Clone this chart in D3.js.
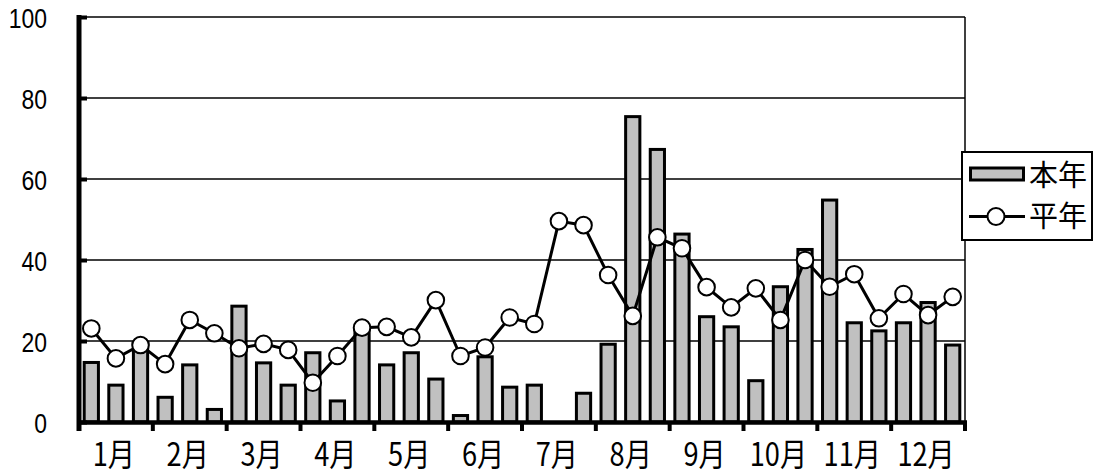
<!DOCTYPE html>
<html><head><meta charset="utf-8">
<script src="https://cdn.jsdelivr.net/npm/d3@7"></script>
<style>html,body{margin:0;padding:0;background:#fff;}svg{display:block;}</style>
</head><body>
<svg id="chart" width="1097" height="475"></svg>
<script>
const months = ["1月","2月","3月","4月","5月","6月","7月","8月","9月","10月","11月","12月"];
const periods = ["上旬","中旬","下旬"];
const categories = months.flatMap(m => periods.map(p => m + p));
const yTicks = [0, 20, 40, 60, 80, 100];
const seriesNames = ["本年", "平年"];
const thisYear = [14.7, 9.1, 19.6, 6.1, 14.1, 3.1, 28.6, 14.6, 9.1, 17.1, 5.2, 22.8,
                  14.1, 17.1, 10.6, 1.6, 16.1, 8.6, 9.1, 0, 7.1, 19.2, 75.4, 67.3,
                  46.4, 26.0, 23.5, 10.2, 33.4, 42.6, 54.8, 24.5, 22.5, 24.5, 29.5, 19.0];
const normal = [23.1, 15.7, 19.0, 14.3, 25.2, 21.9, 18.2, 19.3, 17.8, 9.7, 16.3, 23.3,
                23.5, 20.9, 30.1, 16.3, 18.4, 25.8, 24.2, 49.6, 48.6, 36.3, 26.2, 45.6,
                42.9, 33.3, 28.3, 33.0, 25.2, 40.0, 33.4, 36.5, 25.6, 31.6, 26.4, 30.9];

const L = 79, R = 965, T = 17, B = 422;
const svg = d3.select("#chart");
const y = d3.scaleLinear().domain([0, 100]).range([B, T]);
const x = d3.scaleBand().domain(categories).range([L, R]).paddingInner(0.3).paddingOuter(0.15);
const xm = d3.scaleBand().domain(months).range([L, R]);
const font = "'Noto Sans CJK JP','Liberation Sans',sans-serif";

// gridlines
svg.append("g").selectAll("line").data(yTicks.filter(v => v > 0)).join("line")
  .attr("x1", L).attr("x2", R).attr("y1", d => y(d)).attr("y2", d => y(d))
  .attr("stroke", "#000").attr("stroke-width", 1.5);
// right border
svg.append("line").attr("x1", R).attr("x2", R).attr("y1", y(100)).attr("y2", y(0))
  .attr("stroke", "#000").attr("stroke-width", 1.5);

// bars
svg.append("g").selectAll("rect").data(thisYear).join("rect")
  .attr("x", (d, i) => x(categories[i]) + 1.5)
  .attr("width", x.bandwidth() - 3)
  .attr("y", d => y(d))
  .attr("height", d => y(0) - y(d))
  .attr("fill", d => d > 0 ? "#c0c0c0" : "none")
  .attr("stroke", d => d > 0 ? "#000" : "none")
  .attr("stroke-width", 3);

// line
const cx = i => x(categories[i]) + x.bandwidth() / 2;
svg.append("path").datum(normal)
  .attr("d", d3.line().x((d, i) => cx(i)).y(d => y(d)))
  .attr("fill", "none").attr("stroke", "#000").attr("stroke-width", 3);
svg.append("g").selectAll("circle").data(normal).join("circle")
  .attr("cx", (d, i) => cx(i)).attr("cy", d => y(d)).attr("r", 8.3)
  .attr("fill", "#fff").attr("stroke", "#000").attr("stroke-width", 2);

// y axis
const yAxis = svg.append("g").attr("transform", `translate(${L},0)`)
  .call(d3.axisRight(y).tickValues(yTicks).tickSize(8).tickFormat(""));
yAxis.select(".domain").remove();
yAxis.selectAll(".tick line").attr("stroke", "#000").attr("stroke-width", 4);
svg.append("line").attr("x1", L).attr("x2", L).attr("y1", y(100) - 2).attr("y2", 431)
  .attr("stroke", "#000").attr("stroke-width", 5);
svg.append("g").selectAll("text").data(yTicks).join("text")
  .attr("transform", d => `translate(47,${y(d) + 10.5}) scale(0.85,1)`)
  .attr("text-anchor", "end")
  .attr("font-family", "'Liberation Sans',Arial,sans-serif").attr("font-size", 27)
  .attr("fill", "#000").text(d => d);

// x axis
svg.append("line").attr("x1", L).attr("x2", R + 2).attr("y1", B + 0.5).attr("y2", B + 0.5)
  .attr("stroke", "#000").attr("stroke-width", 4.5);
const xAxis = svg.append("g").attr("transform", `translate(0,${B})`)
  .call(d3.axisBottom(xm).tickSize(0).tickPadding(0));
xAxis.select(".domain").remove();
xAxis.selectAll(".tick text")
  .attr("y", 0).attr("dy", 0)
  .attr("transform", "translate(-2,43.5) scale(0.85,1)")
  .attr("font-family", font).attr("font-size", 32).attr("fill", "#000");
svg.append("g").selectAll("line").data(months).join("line")
  .attr("x1", d => xm(d) + xm.bandwidth()).attr("x2", d => xm(d) + xm.bandwidth())
  .attr("y1", B).attr("y2", 431)
  .attr("stroke", "#000").attr("stroke-width", 4);

// legend
const lg = svg.append("g");
lg.append("rect").attr("x", 962).attr("y", 152).attr("width", 130).attr("height", 88)
  .attr("fill", "#fff").attr("stroke", "#000").attr("stroke-width", 2);
lg.append("rect").attr("x", 970.5).attr("y", 168).attr("width", 53).attr("height", 12)
  .attr("fill", "#c0c0c0").attr("stroke", "#000").attr("stroke-width", 3);
lg.append("line").attr("x1", 969).attr("x2", 1025).attr("y1", 216.5).attr("y2", 216.5)
  .attr("stroke", "#000").attr("stroke-width", 3);
lg.append("circle").attr("cx", 996).attr("cy", 216.5).attr("r", 8.5)
  .attr("fill", "#fff").attr("stroke", "#000").attr("stroke-width", 2);
lg.selectAll("text").data(seriesNames).join("text")
  .attr("x", 1029).attr("y", (d, i) => i === 0 ? 186 : 227)
  .attr("font-family", font).attr("font-size", 29).attr("fill", "#000")
  .text(d => d);
</script>
</body></html>
